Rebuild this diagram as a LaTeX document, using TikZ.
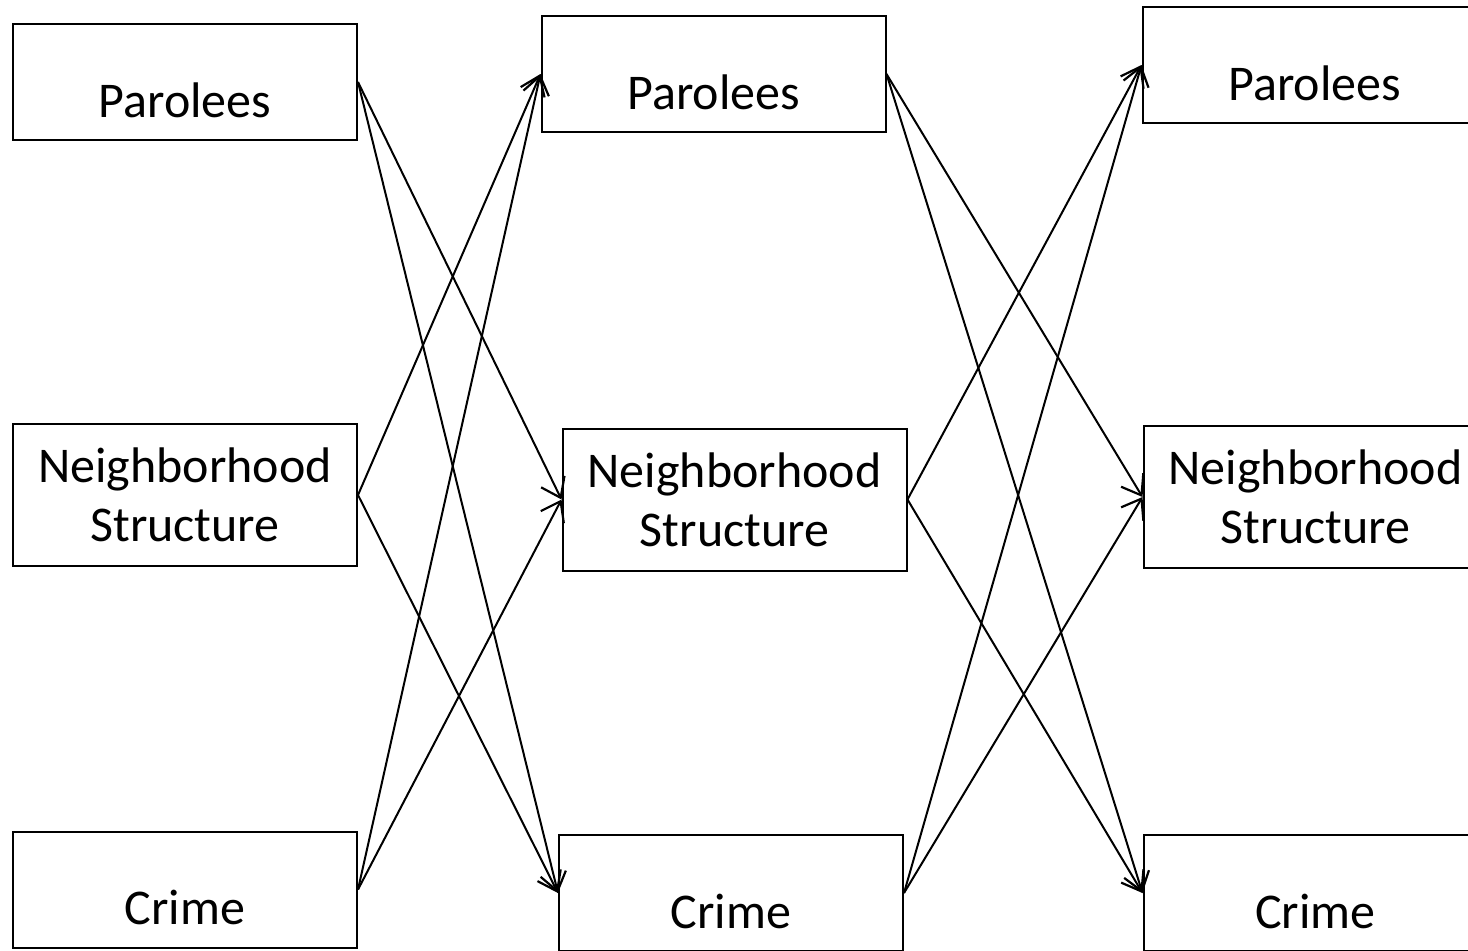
\documentclass[tikz,border=0pt]{standalone}
\usepackage{fontspec}
\setmainfont{Carlito}
\usepackage{tikz}
\usetikzlibrary{arrows.meta,positioning}

\begin{document}
\begin{tikzpicture}[
      x=0.5pt, y=-0.5pt,
      box/.style={draw=black, line width=1pt, minimum width=172pt, inner sep=0pt,
        align=center, font=\fontsize{25}{29.5}\selectfont},
      onebox/.style={box, minimum height=58pt, text height=35pt, text depth=0pt},
      twobox/.style={box, minimum height=71pt},
      arr/.style={-{Straight Barb[length=9pt,width=13pt,line width=1.1pt]}, line width=1pt, draw=black}
    ]
      \clip (0,0) rectangle (1468,950);
      \useasboundingbox (0,0) rectangle (1468,950);
      % first wave
      \node[onebox] (par1) at (185,82) {Parolees};
      \node[twobox] (nbh1) at (185,495) {Neighborhood\\Structure};
      \node[onebox] (crm1) at (185,889.5) {Crime};
      % second wave
      \node[onebox] (par2) at (713.5,74) {Parolees};
      \node[twobox] (nbh2) at (734.5,499.5) {Neighborhood\\Structure};
      \node[onebox] (crm2) at (731,893) {Crime};
      % third wave
      \node[onebox] (par3) at (1314.5,65) {Parolees};
      \node[twobox] (nbh3) at (1315.5,497) {Neighborhood\\Structure};
      \node[onebox] (crm3) at (1315.5,893) {Crime};
      % cross-lagged paths
      \draw[arr] (par1.east) -- (nbh2.west);
      \draw[arr] (par1.east) -- (crm2.west);
      \draw[arr] (nbh1.east) -- (par2.west);
      \draw[arr] (nbh1.east) -- (crm2.west);
      \draw[arr] (crm1.east) -- (par2.west);
      \draw[arr] (crm1.east) -- (nbh2.west);
      \draw[arr] (par2.east) -- (nbh3.west);
      \draw[arr] (par2.east) -- (crm3.west);
      \draw[arr] (nbh2.east) -- (par3.west);
      \draw[arr] (nbh2.east) -- (crm3.west);
      \draw[arr] (crm2.east) -- (par3.west);
      \draw[arr] (crm2.east) -- (nbh3.west);
    \end{tikzpicture}
\end{document}
